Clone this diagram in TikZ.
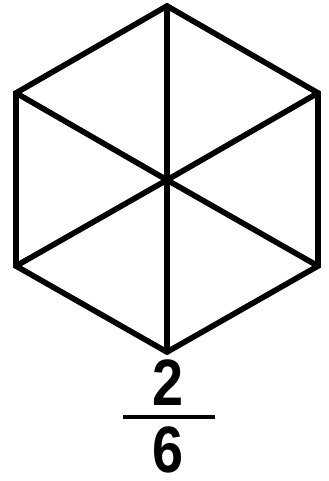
\documentclass[tikz,border=0pt]{standalone}
\usepackage{fontspec}
\newfontfamily\digitfont{Liberation Sans}
\begin{document}
\begin{tikzpicture}[x=0.03cm,y=-0.03cm,
  edge/.style={line width=4.8pt, line join=miter, line cap=round},
  digit/.style={inner sep=0pt, font=\digitfont\bfseries\fontsize{56pt}{56pt}\selectfont, xscale=0.85}]
\useasboundingbox (0,0) rectangle (328,481);
\coordinate (C) at (167,180);
\coordinate (T) at (167,6);
\coordinate (UL) at (16,93);
\coordinate (LL) at (16,266);
\coordinate (B) at (167,352);
\coordinate (LR) at (318,266);
\coordinate (UR) at (318,93);
\draw[edge] (T) -- (UL) -- (LL) -- (B) -- (LR) -- (UR) -- cycle;
\foreach \v in {T,UL,LL,B,LR,UR} \draw[edge] (C) -- (\v);
\node[digit] (num) at (168,383) {2};
\node[digit] (den) at (168,450) {6};
\coordinate (barL) at (123,417);
\coordinate (barR) at (215,417);
\draw[line width=3.4pt] (barL) -- (barR);
\end{tikzpicture}
\end{document}
